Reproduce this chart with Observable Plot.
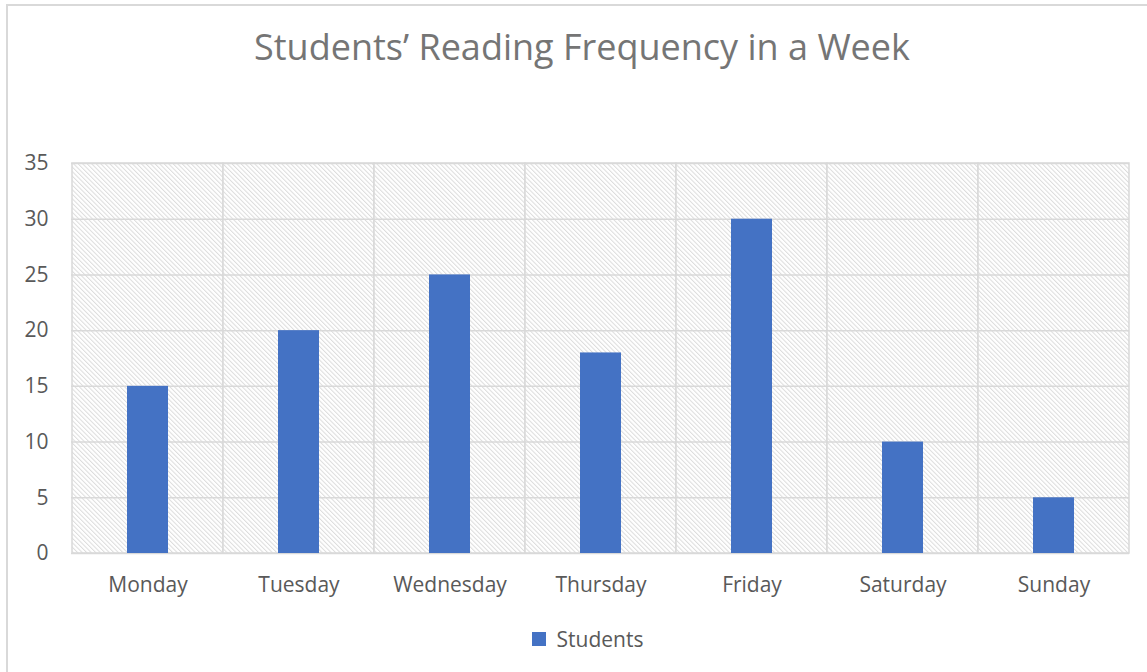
<!DOCTYPE html>
<html><head><meta charset="utf-8">
<script src="https://cdn.jsdelivr.net/npm/d3@7"></script>
<script src="https://cdn.jsdelivr.net/npm/@observablehq/plot@0.6"></script>
<style>
body{margin:0;background:#fff;font-family:"Open Sans",sans-serif;}
#frame{position:absolute;left:6px;top:4px;width:1200px;height:720px;border-left:2px solid #d9d9d9;border-top:2px solid #d9d9d9;}
#title{position:absolute;left:0;width:1164px;top:27px;line-height:40px;text-align:center;font-size:36px;color:#757575;white-space:nowrap;}
#chart{position:absolute;left:0;top:100px;}
#legend{position:absolute;left:532px;top:622px;}
</style>
</head><body>
<div id="frame"></div>
<div id="title">Students’ Reading Frequency in a Week</div>
<div id="chart"></div>
<div id="legend"></div>
<script>
const days = ["Monday","Tuesday","Wednesday","Thursday","Friday","Saturday","Sunday"];
const students = [15,20,25,18,30,10,5];
const yTicks = [0,5,10,15,20,25,30,35];
const seriesName = "Students";
const barColor = "#4472C4";

const data = days.map((d,i)=>({day:d, value:students[i]}));

const chart = Plot.plot({
  width:1147, height:503,
  marginTop:63, marginBottom:50, marginLeft:71, marginRight:18,
  style:{fontFamily:"Open Sans", fontSize:"21px", color:"#595959", background:"transparent", overflow:"visible"},
  x:{domain:days, padding:0, label:null, tickSize:0, tickPadding:24},
  y:{domain:[0,35], ticks:yTicks, label:null, tickSize:0, tickPadding:23},
  marks:[
    Plot.barY(days, {x:d=>d, y1:0, y2:35, fill:"url(#hatch)", stroke:"#d9d9d9", strokeWidth:1.5, insetLeft:0, insetRight:0}),
    Plot.ruleY(yTicks, {stroke:"#d9d9d9", strokeWidth:1.5}),
    Plot.barY(data, {x:"day", y:"value", fill:barColor, insetLeft:55, insetRight:55})
  ]
});
d3.select(chart).selectAll("g[aria-label='x-axis tick label'], g[aria-label='y-axis tick label']").attr("font-size", "21");
d3.select(chart).insert("defs", ":first-child").html(
  `<pattern id="hatch" width="3.2" height="3.2" patternUnits="userSpaceOnUse" patternTransform="rotate(-45)">
     <rect width="3.2" height="3.2" fill="#ffffff"/>
     <line x1="0.5" y1="0" x2="0.5" y2="3.2" stroke="#dcdcdc" stroke-width="1"/>
   </pattern>`);
document.getElementById("chart").appendChild(chart);

const legend = Plot.legend({
  color:{type:"categorical", domain:[seriesName], range:[barColor]},
  swatchSize:14,
  style:{fontFamily:"Open Sans", fontSize:"21px", color:"#595959"}
});
document.getElementById("legend").appendChild(legend);
</script>
</body></html>
